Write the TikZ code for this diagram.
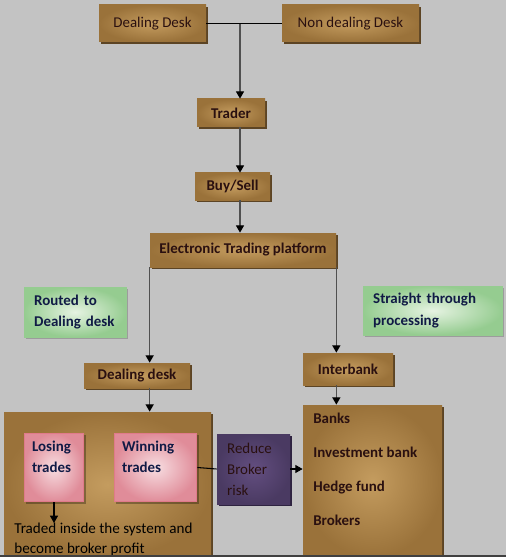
\documentclass[tikz,border=0pt]{standalone}
\usepackage{fontspec}
\setmainfont{Carlito}
\usetikzlibrary{arrows.meta,shadows}

\definecolor{bgray}{HTML}{C3C3C3}
\definecolor{brownin}{HTML}{C49C5F}
\definecolor{brownout}{HTML}{9A723A}
\definecolor{brownsh}{HTML}{5C4424}
\definecolor{browntext}{HTML}{2A1010}
\definecolor{greenin}{HTML}{E6F3E2}
\definecolor{greenout}{HTML}{95CC90}
\definecolor{shadowgray}{HTML}{9C9C9C}
\definecolor{navytext}{HTML}{101A45}
\definecolor{pinkin}{HTML}{F7DDE1}
\definecolor{pinkout}{HTML}{E08C99}
\definecolor{pinkline}{HTML}{E07A8A}
\definecolor{purplein}{HTML}{634E80}
\definecolor{purpleout}{HTML}{4A3A62}
\definecolor{purplesh}{HTML}{2E2340}
\definecolor{linegray}{HTML}{505050}

\begin{document}
\begin{tikzpicture}[x=0.02cm, y=-0.02cm, >={Triangle[width=4.6pt,length=4.2pt,color=black]},
    every node/.style={font=\fontsize{8.5}{12}\selectfont},
    sz/.style 2 args={minimum width=#1*0.02cm, minimum height=#2*0.02cm},
    boldtext/.style={font=\fontsize{8.5}{12}\selectfont\bfseries},
    brownbox/.style={shading=radial, inner color=brownin, outer color=brownout, text=browntext,
      drop shadow={shadow xshift=1.1pt, shadow yshift=-1.1pt, fill=brownsh, opacity=1}},
    greenbox/.style={shading=radial, inner color=greenin, outer color=greenout, draw=greenout,
      text=navytext, boldtext, align=left, inner xsep=5.7pt,
      drop shadow={shadow xshift=1.1pt, shadow yshift=-1.1pt, fill=shadowgray, opacity=1}},
    pinkbox/.style={shading=radial, inner color=pinkin, outer color=pinkout, draw=pinkline,
      line width=0.6pt, text=navytext, boldtext, inner sep=4.5pt,
      drop shadow={shadow xshift=1.1pt, shadow yshift=-1.1pt, fill=black, opacity=0.3}},
    purplebox/.style={shading=radial, inner color=purplein, outer color=purpleout, text=browntext,
      align=left, inner xsep=5.7pt,
      drop shadow={shadow xshift=1.1pt, shadow yshift=-1.1pt, fill=purplesh, opacity=1}},
    link/.style={draw=linegray, line width=0.8pt},
    thinlink/.style={draw=black, line width=0.6pt}]

  \useasboundingbox[fill=bgray] (0,0) rectangle (506,557);

  \node[brownbox, sz={107}{37}] (dd) at (152.5,23.5) {Dealing Desk};
  \node[brownbox, sz={137}{37}] (ndd) at (350.5,23.5) {Non dealing Desk};
  \node[brownbox, boldtext, sz={68}{28}] (trader) at (231,113) {Trader};
  \node[brownbox, boldtext, sz={75}{27}] (buysell) at (232.5,186.5) {Buy/Sell};
  \node[brownbox, boldtext, sz={186}{34}] (etp) at (243,250) {Electronic Trading platform};

  \node[greenbox, sz={102}{50}, text width=46.5pt] (routed) at (75,312) {Routed to\\Dealing desk};
  \node[greenbox, sz={139}{49}, text width=67.5pt] (stp) at (432.5,310.5) {Straight through\\processing};

  \node[brownbox, boldtext, sz={106}{25}] (dldesk) at (137,375.5) {Dealing desk};
  \node[brownbox, boldtext, sz={90}{32}] (interbank) at (348,369) {Interbank};

  \node[brownbox, sz={207}{145}] (leftbox) at (107.5,484.5) {};
  \node[brownbox, sz={139}{152}] (rightbox) at (372.5,481) {};

  \node[pinkbox] (losing) at (54,467.5) {\parbox[c][30pt][t]{25pt}{Losing\\trades}};
  \node[pinkbox] (winning) at (155.5,467.5) {\parbox[c][30pt][t]{38pt}{Winning\\trades}};
  \node[purplebox, sz={73}{70}, text width=30pt] (reduce) at (253.5,469) {Reduce\\Broker\\risk};

  \node[anchor=north west, align=left, inner sep=0pt, text=black,
    font=\fontsize{8.6}{11.3}\selectfont] (traded) at (14,523)
    {Traded inside the system and\\become broker profit};
  \node[anchor=north west, align=left, inner sep=0pt, text=browntext,
    font=\fontsize{8.5}{19.3}\selectfont\bfseries] (banks) at (313,413)
    {Banks\\Investment bank\\Hedge fund\\Brokers};

  \coordinate (junc) at (240,24);
  \draw[thinlink] (dd.east) -- (ndd.west);
  \draw[link,->] (junc) -- (junc |- trader.north);
  \draw[link,->] (junc |- trader.south) -- (junc |- buysell.north);
  \draw[link,->] (junc |- buysell.south) -- (junc |- etp.north);
  \draw[link,->] (etp.south west) -- (etp.south west |- dldesk.north);
  \draw[link,->] (etp.south east) -- (etp.south east |- interbank.north);
  \draw[link,->] (etp.south west |- dldesk.south) -- (etp.south west |- leftbox.north);
  \draw[link,->] (etp.south east |- interbank.south) -- (etp.south east |- rightbox.north);
  \draw[thinlink] (winning.east) -- (reduce.west);
  \draw[thinlink,->] (reduce.east) -- (reduce.east -| rightbox.west);
  \draw[thinlink,->] (losing.south) -- (losing.south |- traded.north);

  \draw[line width=1pt, black!75] (0,556) -- (506,556);
\end{tikzpicture}
\end{document}
